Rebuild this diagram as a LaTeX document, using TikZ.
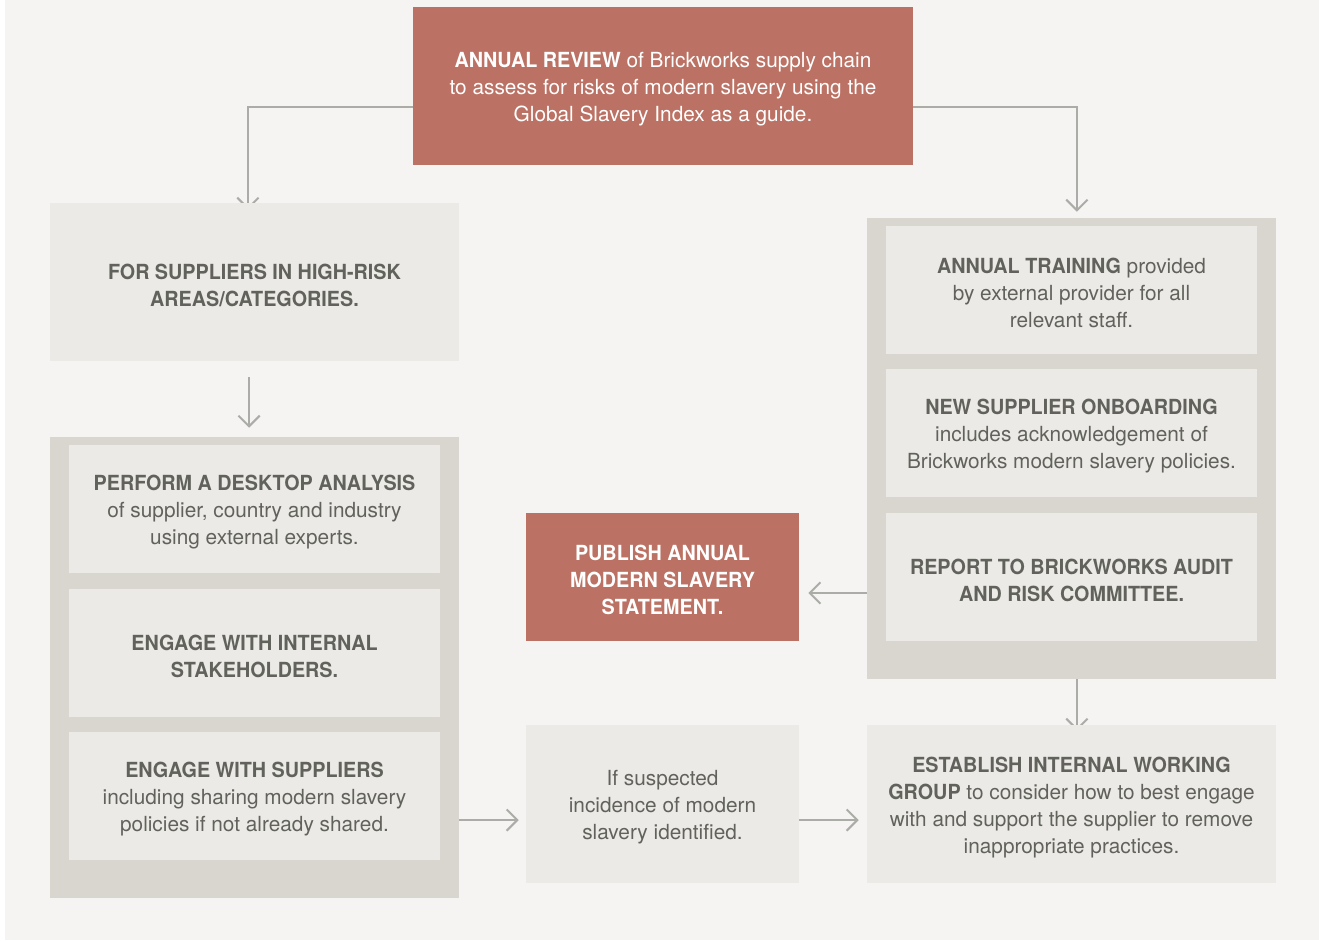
\documentclass[tikz,border=0pt]{standalone}
\usepackage{fontspec}
\setmainfont{TeX Gyre Heros}[BoldFeatures={FakeStretch=0.95}]
\usetikzlibrary{arrows.meta,calc}
\definecolor{pagebg}{HTML}{F5F4F2}
\definecolor{brick}{HTML}{BB7163}
\definecolor{boxbg}{HTML}{EBEAE6}
\definecolor{groupbg}{HTML}{D9D6CF}
\definecolor{txt}{HTML}{62625C}
\definecolor{arrowc}{HTML}{ABABA8}
\newcommand{\tstr}{\rule{0pt}{16.5pt}}
\pgfdeclarelayer{bglayer}
\pgfdeclarelayer{connlayer}
\pgfsetlayers{bglayer,connlayer,main}
\tikzset{
  basebox/.style={rectangle, inner sep=0pt, align=center,
    font=\fontsize{15.6pt}{20.25pt}\selectfont},
  redbox/.style={basebox, fill=brick, text=white},
  greybox/.style={basebox, fill=boxbg, text=txt},
  groupbox/.style={rectangle, inner sep=0pt, fill=groupbg},
  arr/.style={draw=arrowc, line width=1.5pt, -{Straight Barb[length=8pt,width=16pt,line width=1.5pt]}},
}
\begin{document}
\begin{tikzpicture}[x=0.75pt,y=-0.75pt]
\begin{pgfonlayer}{bglayer}
\fill[white] (0,0) rectangle (1319,940);
\fill[pagebg] (5,0) rectangle (1319,940);
\end{pgfonlayer}
\useasboundingbox (0,0) rectangle (1319,940);

% top
\node[redbox, minimum width=375pt, minimum height=118.5pt] (top) at (663,86)
  {\tstr\textbf{ANNUAL REVIEW} of Brickworks supply chain\\to assess for risks of modern slavery using the\\Global Slavery Index as a guide.};

% left column
\node[greybox, minimum width=306.75pt, minimum height=118.5pt] (left1) at (254.5,282)
  {\tstr\textbf{FOR SUPPLIERS IN HIGH-RISK}\\\textbf{AREAS/CATEGORIES.}};
\node[groupbox, minimum width=306.75pt, minimum height=345.75pt] (lgroup) at (254.5,667.5) {};
\node[greybox, minimum width=278.25pt, minimum height=96pt] (li1) at (254.5,509)
  {\tstr\textbf{PERFORM A DESKTOP ANALYSIS}\\of supplier, country and industry\\using external experts.};
\node[greybox, minimum width=278.25pt, minimum height=96pt] (li2) at (254.5,653)
  {\tstr\textbf{ENGAGE WITH INTERNAL}\\\textbf{STAKEHOLDERS.}};
\node[greybox, minimum width=278.25pt, minimum height=96pt] (li3) at (254.5,796)
  {\tstr\textbf{ENGAGE WITH SUPPLIERS}\\including sharing modern slavery\\policies if not already shared.};

% right column
\node[groupbox, minimum width=306.75pt, minimum height=345.75pt] (rgroup) at (1071.5,448.5) {};
\node[greybox, minimum width=278.25pt, minimum height=96pt] (ri1) at (1071.5,290)
  {\tstr\textbf{ANNUAL TRAINING} provided\\by external provider for all\\relevant staff.};
\node[greybox, minimum width=278.25pt, minimum height=96pt] (ri2) at (1071.5,433)
  {\tstr\textbf{NEW SUPPLIER ONBOARDING}\\includes acknowledgement of\\Brickworks modern slavery policies.};
\node[greybox, minimum width=278.25pt, minimum height=96pt] (ri3) at (1071.5,577)
  {\tstr\textbf{REPORT TO BRICKWORKS AUDIT}\\\textbf{AND RISK COMMITTEE.}};

% middle
\node[redbox, minimum width=204.75pt, minimum height=96pt] (pub) at (662.5,577)
  {\tstr\textbf{PUBLISH ANNUAL}\\\textbf{MODERN SLAVERY}\\\textbf{STATEMENT.}};
\node[greybox, minimum width=204.75pt, minimum height=118.5pt] (susp) at (662.5,804)
  {\tstr If suspected\\incidence of modern\\slavery identified.};
\node[greybox, minimum width=306.75pt, minimum height=118.5pt] (est) at (1071.5,804)
  {\tstr\textbf{ESTABLISH INTERNAL WORKING}\\\textbf{GROUP} to consider how to best engage\\with and support the supplier to remove\\inappropriate practices.};

% connectors
\begin{pgfonlayer}{connlayer}
\draw[arr] ([yshift=-15.75pt]top.west) -| ([xshift=-4.9pt,yshift=-5.25pt]left1.north);
\draw[arr] ([yshift=-15.75pt]top.east) -| ([xshift=4.1pt,yshift=4.5pt]rgroup.north);
\draw[arr, shorten <=12pt, shorten >=6.75pt] ([xshift=-4.1pt]left1.south) -- ([xshift=-4.1pt]lgroup.north);
\draw[arr, shorten >=6.75pt] ([yshift=-12pt]rgroup.west |- ri3.center) -- ([yshift=-12pt]pub.east |- ri3.center);
\draw[arr, shorten >=5.25pt] (lgroup.east |- 0,820) -- (susp.west |- 0,820);
\draw[arr, shorten >=6pt] (susp.east |- 0,820) -- (est.west |- 0,820);
\draw[arr] ([xshift=4.1pt]rgroup.south) -- ([xshift=4.1pt,yshift=-4.5pt]est.north);
\end{pgfonlayer}
\end{tikzpicture}
\end{document}
